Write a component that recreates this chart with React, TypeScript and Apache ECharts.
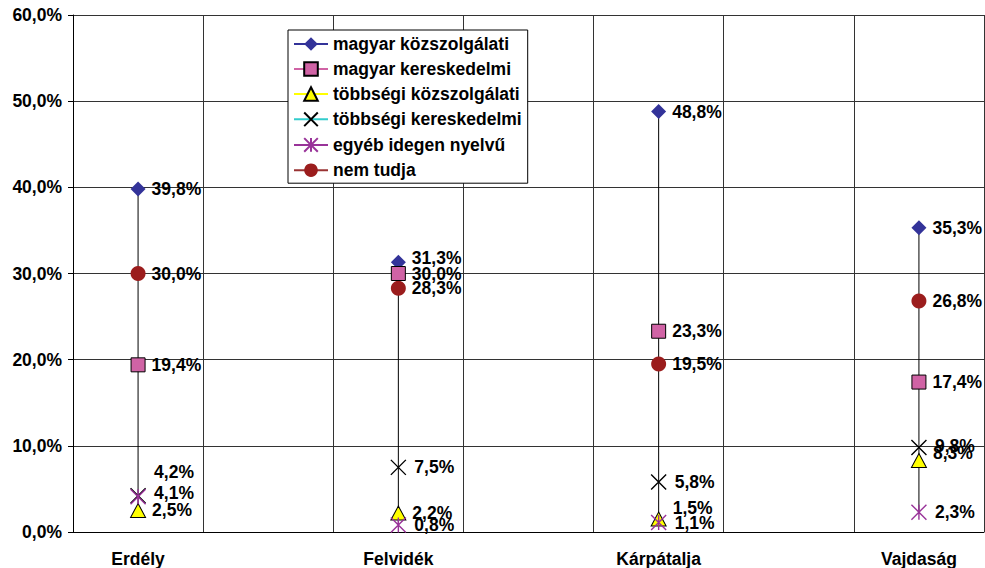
import React, { useEffect, useRef } from "react";
import * as echarts from "echarts";

const categories = ["Erdély", "Felvidék", "Kárpátalja", "Vajdaság"];
const seriesNames = [
  "magyar közszolgálati",
  "magyar kereskedelmi",
  "többségi közszolgálati",
  "többségi kereskedelmi",
  "egyéb idegen nyelvű",
  "nem tudja",
];
const magyarKozszolgalati = [39.8, 31.3, 48.8, 35.3];
const magyarKereskedelmi = [19.4, 30.0, 23.3, 17.4];
const tobbsegiKozszolgalati = [2.5, 2.2, 1.5, 8.3];
const tobbsegiKereskedelmi = [4.2, 7.5, 5.8, 9.8];
const egyebIdegen = [4.1, 0.8, 1.1, 2.3];
const nemTudja = [30.0, 28.3, 19.5, 26.8];
const yTicks = [0, 10, 20, 30, 40, 50, 60];

const seriesValues = [
  magyarKozszolgalati,
  magyarKereskedelmi,
  tobbsegiKozszolgalati,
  tobbsegiKereskedelmi,
  egyebIdegen,
  nemTudja,
];

// label vertical nudges (style only), keyed "series index|category index"
const labelShift: Record<string, number> = {
  "3|0": -24,
  "4|0": -4,
  "0|1": -4,
  "2|2": -11,
  "2|3": -7,
  "3|3": -2,
};

const FONT = "'Liberation Sans', Arial, sans-serif";
const FS = 17.5;
const fmt = (v: number) => v.toFixed(1).replace(".", ",") + "%";

const styles = [
  { symbol: "diamond", size: [15, 15], item: { color: "#333399" }, line: "#333399" },
  { symbol: "rect", size: [14, 14], item: { color: "#D063A5", borderColor: "#000", borderWidth: 1 }, line: "#D063A5" },
  { symbol: "triangle", size: [15, 14], item: { color: "#FFFF00", borderColor: "#000", borderWidth: 1 }, line: "#FFFF00" },
  { symbol: "path://M0,0L10,10M10,0L0,10", size: [15, 15], item: { color: "none", borderColor: "#000", borderWidth: 1.4 }, line: "#33CCCC" },
  { symbol: "path://M0,0L10,10M10,0L0,10M5,0L5,10", size: [15, 15], item: { color: "none", borderColor: "#993399", borderWidth: 1.4 }, line: "#993399" },
  { symbol: "circle", size: [15, 15], item: { color: "#9B1D1D" }, line: "#993333" },
];

export default function App() {
  const ref = useRef<HTMLDivElement>(null);
  useEffect(() => {
    document.body.style.margin = "0";
    if (!ref.current) return;
    const chart = echarts.init(ref.current, undefined, { renderer: "svg" });

    // axis slots: each category followed by an empty slot
    const slots: string[] = [];
    categories.forEach((c, i) => {
      slots.push(c);
      if (i < categories.length - 1) slots.push("");
    });
    const slotIndex = (i: number) => i * 2;

    const lineSeries = seriesNames.map((name, si) => {
      const data: any[] = slots.map(() => null);
      seriesValues[si].forEach((v, ci) => {
        const shift = labelShift[si + "|" + ci];
        data[slotIndex(ci)] = shift
          ? { value: v, label: { offset: [0, shift] } }
          : { value: v };
      });
      const st = styles[si];
      return {
        name,
        type: "line",
        data,
        connectNulls: false,
        symbol: st.symbol,
        symbolSize: st.size,
        showAllSymbol: true,
        itemStyle: st.item,
        lineStyle: { color: st.line, width: 1 },
        z: si === 5 ? 2 : 3,
        silent: true,
        emphasis: { disabled: true },
        label: {
          show: true,
          position: "right",
          distance: 6,
          color: "#000",
          fontFamily: FONT,
          fontWeight: "bold",
          fontSize: FS,
          formatter: (p: any) => fmt(typeof p.value === "number" ? p.value : p.data.value),
        },
      };
    });

    const hiLo = categories.map((_, ci) => {
      const vals = seriesValues.map((s) => s[ci]);
      return [slotIndex(ci), Math.min(...vals), Math.max(...vals)];
    });

    chart.setOption({
      animation: false,
      grid: { left: 73, right: 1, top: 15, bottom: 36, containLabel: false },
      legend: {
        data: seriesNames,
        orient: "vertical",
        left: 288,
        top: 30,
        backgroundColor: "#fff",
        borderColor: "#000",
        borderWidth: 1,
        borderRadius: 0,
        padding: [5, 6, 4, 5],
        itemWidth: 34,
        itemHeight: 17,
        itemGap: 7,
        selectedMode: false,
        textStyle: { fontFamily: FONT, fontWeight: "bold", fontSize: FS, color: "#000" },
      },
      xAxis: {
        type: "category",
        data: slots,
        boundaryGap: true,
        axisLine: { show: true, lineStyle: { color: "#000", width: 1 } },
        axisTick: { show: false },
        splitLine: { show: true, interval: 0, lineStyle: { color: "#333", width: 1 } },
        axisLabel: {
          interval: 0,
          margin: 18,
          color: "#000",
          fontFamily: FONT,
          fontWeight: "bold",
          fontSize: FS,
        },
      },
      yAxis: {
        type: "value",
        min: yTicks[0],
        max: yTicks[yTicks.length - 1],
        interval: 10,
        axisLine: { show: true, lineStyle: { color: "#000", width: 1 } },
        axisTick: { show: true, length: 5, lineStyle: { color: "#000" } },
        splitLine: { show: true, lineStyle: { color: "#333", width: 1 } },
        axisLabel: {
          margin: 11,
          color: "#000",
          fontFamily: FONT,
          fontWeight: "bold",
          fontSize: FS,
          formatter: (v: number) => fmt(v),
        },
      },
      series: [
        {
          type: "custom",
          name: "hilo",
          data: hiLo,
          z: 1,
          silent: true,
          renderItem: (params: any, api: any) => {
            const p1 = api.coord([api.value(0), api.value(1)]);
            const p2 = api.coord([api.value(0), api.value(2)]);
            return {
              type: "line",
              shape: { x1: p1[0], y1: p1[1], x2: p2[0], y2: p2[1] },
              style: { stroke: "#000", lineWidth: 1 },
            };
          },
        },
        ...lineSeries,
      ],
    });
    return () => chart.dispose();
  }, []);
  return <div ref={ref} style={{ width: 985, height: 568 }} />;
}
